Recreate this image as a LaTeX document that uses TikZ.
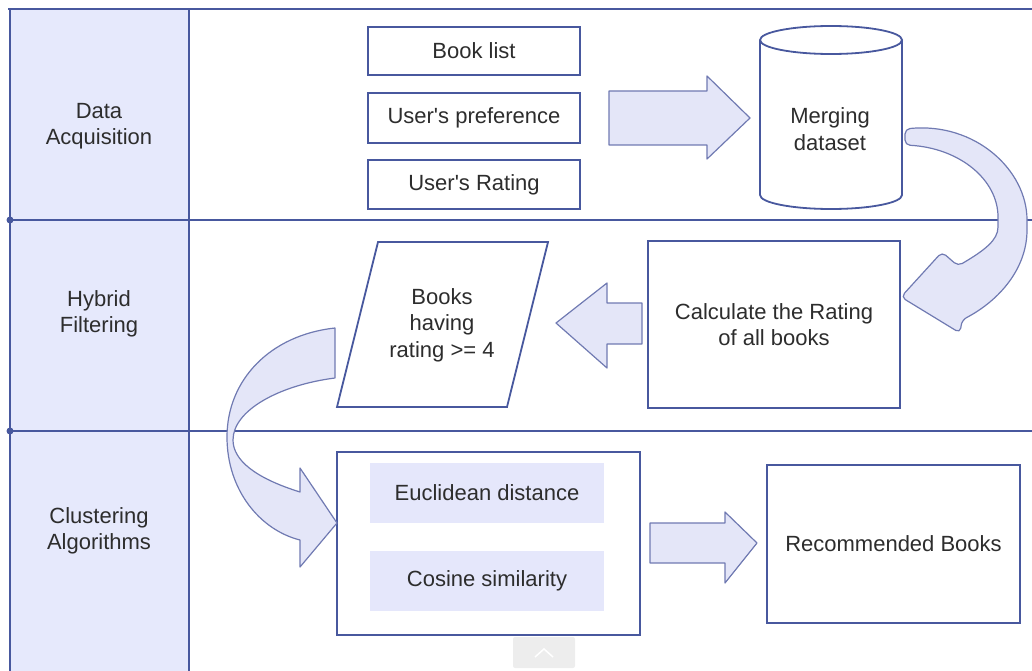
\documentclass[tikz,border=0pt]{standalone}
\usepackage{fontspec}
\newfontfamily\lsans{Liberation Sans}
\definecolor{lanefill}{RGB}{230,233,252}
\definecolor{edge}{RGB}{72,88,158}
\definecolor{arrowfill}{RGB}{228,230,248}
\definecolor{arrowedge}{RGB}{112,122,178}
\definecolor{ink}{RGB}{45,45,45}
\definecolor{softbox}{RGB}{229,231,251}
\begin{document}
\begin{tikzpicture}[x=1pt,y=-1pt,
  every node/.style={text=ink,font=\lsans\fontsize{22}{26.5}\selectfont,align=center},
  box/.style={draw=edge,line width=1.8,fill=white,inner sep=0pt},
  inbox/.style={fill=softbox,inner sep=0pt,minimum width=234,minimum height=60},
  lanetext/.style={},
  blockarrow/.style={fill=arrowfill,draw=arrowedge,line width=1.2,line join=round},
  laneline/.style={draw=edge,line width=1.3}]
\useasboundingbox (0,0) rectangle (1032,671);

% swimlane frame
\fill[lanefill] (10,9) rectangle (189,671);
\draw[laneline] (8,9) -- (1032,9);
\draw[laneline] (10,220) -- (1032,220);
\draw[laneline] (10,431) -- (1032,431);
\draw[edge,line width=1.8] (10,9) -- (10,671);
\draw[edge,line width=1.8] (189,9) -- (189,671);
\fill[edge] (10,220) circle (3.5);
\fill[edge] (10,431) circle (3.5);

\node[lanetext] (l1) at (99,126) {Data\\Acquisition};
\node[lanetext] (l2) at (99,314) {Hybrid\\Filtering};
\node[lanetext] (l3) at (99,531) {Clustering\\Algorithms};

% data acquisition
\node[box,minimum width=212,minimum height=48] (booklist) at (474,51) {Book list};
\node[box,minimum width=212,minimum height=50] (pref) at (474,118) {User's preference};
\node[box,minimum width=212,minimum height=49] (rating) at (474,184.5) {User's Rating};

\draw[blockarrow] (609,91) -- (707,91) -- (707,76) -- (750,118) -- (707,159) -- (707,145) -- (609,145) -- cycle;

% merging dataset cylinder
\coordinate (cyltop) at (831,40);
\draw[edge,line width=1.8,fill=white] (760,40) -- (760,195) arc[start angle=180,end angle=0,x radius=71,y radius=14] -- (902,40);
\draw[edge,line width=1.8] (cyltop) ellipse [x radius=71,y radius=14];
\node (merge) at (830,129) {Merging\\dataset};

% hybrid filtering
\node[box,minimum width=252,minimum height=167] (calc) at (774,324.5) {Calculate the Rating\\of all books};
\draw[edge,line width=1.8,fill=white] (378,242) -- (548,242) -- (507,407) -- (337,407) -- cycle;
\node (books) at (442,325) {Books\\having\\rating >= 4};

\draw[blockarrow] (642,303) -- (607,303) -- (607,283) -- (556,323) -- (607,368) -- (607,344) -- (642,344) -- cycle;

% clustering
\node[box,minimum width=303,minimum height=183] (cluster) at (488.5,543.5) {};
\node[inbox] (euclid) at (487,493) {Euclidean distance};
\node[inbox] (cosine) at (487,581) {Cosine similarity};
\node[box,minimum width=253,minimum height=158] (recom) at (893.5,544) {Recommended Books};

\draw[blockarrow] (650,523) -- (725,523) -- (725,512) -- (757,543) -- (725,583) -- (725,563) -- (650,563) -- cycle;

% curved arrow from dataset down to rating calculation
\draw[blockarrow,rounded corners=5] (905,129)
  .. controls (975,122) and (1027,170) .. (1027,225)
  .. controls (1027,268) and (1000,300) .. (962,320)
  -- (960,333) -- (901,297) -- (942,252) -- (958,266)
  .. controls (985,250) and (998,240) .. (998,222)
  .. controls (998,180) and (960,148) .. (905,145) -- cycle;

% curved arrow from filtered books down to clustering
\draw[blockarrow] (335,328)
  .. controls (270,335) and (227,380) .. (227,437)
  .. controls (227,490) and (260,530) .. (300,540)
  -- (300,567) -- (337,523) -- (300,468) -- (300,492)
  .. controls (255,478) and (233,460) .. (233,440)
  .. controls (233,410) and (280,385) .. (335,378) -- cycle;

% small scroll tab
\fill[black!7,rounded corners=2] (513,637) rectangle (575,668);
\draw[white,line width=1.5] (535,657) -- (544,649) -- (553,657);
\end{tikzpicture}
\end{document}
